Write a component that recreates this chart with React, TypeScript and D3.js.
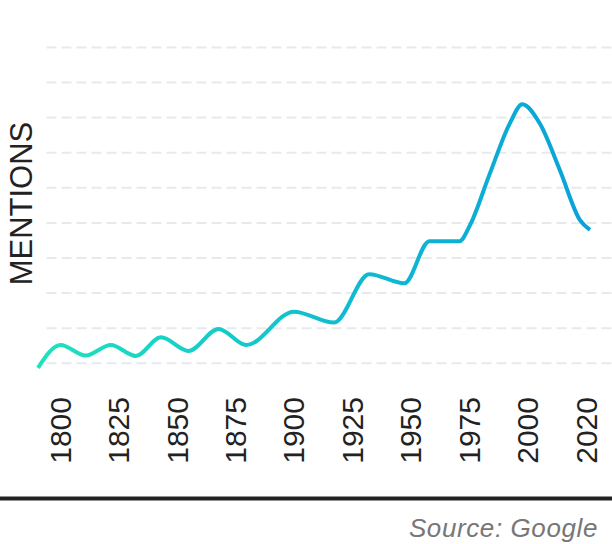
import * as d3 from "d3";

// mentions over time (arbitrary units, gridlines every 10)
const years = [
  1800, 1809, 1819, 1829, 1839, 1849, 1860, 1872, 1883, 1902, 1918, 1932, 1946,
  1956, 1968, 1972, 1980, 1988, 1993, 2000, 2008, 2016, 2020,
];
const mentions = [
  8.7, 15.2, 12.2, 15.2, 12.1, 17.4, 13.5, 19.8, 15.2, 24.7, 21.6, 35.4, 32.8,
  44.8, 44.8, 49.1, 63.9, 78.3, 83.8, 78.3, 65.0, 50.8, 48.0,
];
const tickLabels = ["1800", "1825", "1850", "1875", "1900", "1925", "1950", "1975", "2000", "2020"];
const gridValues = [10, 20, 30, 40, 50, 60, 70, 80, 90, 100];

const W = 612;
const H = 544;
const FONT = "'Liberation Sans', Arial, Helvetica, sans-serif";

export default function App() {
  const x = d3.scaleLinear().domain([1800, 2020]).range([38, 590]);
  const y = d3.scaleLinear().domain([0, 100]).range([398.4, 47.4]);
  const labelX = d3.scalePoint<string>().domain(tickLabels).range([60, 586]);

  const data = years.map((yr, i) => ({ yr, v: mentions[i] }));
  const line = d3
    .line<{ yr: number; v: number }>()
    .x((d) => x(d.yr))
    .y((d) => y(d.v))
    .curve(d3.curveMonotoneX);

  return (
    <svg
      width={W}
      height={H}
      style={{ position: "absolute", left: 0, top: 0 }}
      fontFamily={FONT}
    >
      <defs>
        <linearGradient id="lineGrad" gradientUnits="userSpaceOnUse" x1={x(1800)} x2={x(2020)} y1={0} y2={0}>
          <stop offset="0%" stopColor="#1ee3bd" />
          <stop offset="55%" stopColor="#0fbcd0" />
          <stop offset="100%" stopColor="#0aa2d8" />
        </linearGradient>
      </defs>
      <rect width={W} height={H} fill="#ffffff" />

      {gridValues.map((g) => (
        <line
          key={g}
          x1={46.5}
          x2={W}
          y1={y(g)}
          y2={y(g)}
          stroke="#e6e9ee"
          strokeWidth={2}
          strokeDasharray="10 5"
        />
      ))}

      <path
        d={line(data) ?? ""}
        fill="none"
        stroke="url(#lineGrad)"
        strokeWidth={4}
        strokeLinejoin="round"
      />

      <text
        transform="translate(32,203.5) rotate(-90)"
        textAnchor="middle"
        fontSize={31}
        fill="#222"
      >
        MENTIONS
      </text>

      {tickLabels.map((t) => (
        <text
          key={t}
          transform={`translate(${(labelX(t) ?? 0) + 10.7},397) rotate(-90)`}
          textAnchor="end"
          fontSize={30}
          fill="#222"
        >
          {t}
        </text>
      ))}

      <rect x={0} y={496.5} width={W} height={4} fill="#222" />

      <text
        x={598}
        y={537}
        textAnchor="end"
        fontSize={26}
        fontStyle="italic"
        letterSpacing={0.6}
        fill="#777"
      >
        Source: Google
      </text>
    </svg>
  );
}
